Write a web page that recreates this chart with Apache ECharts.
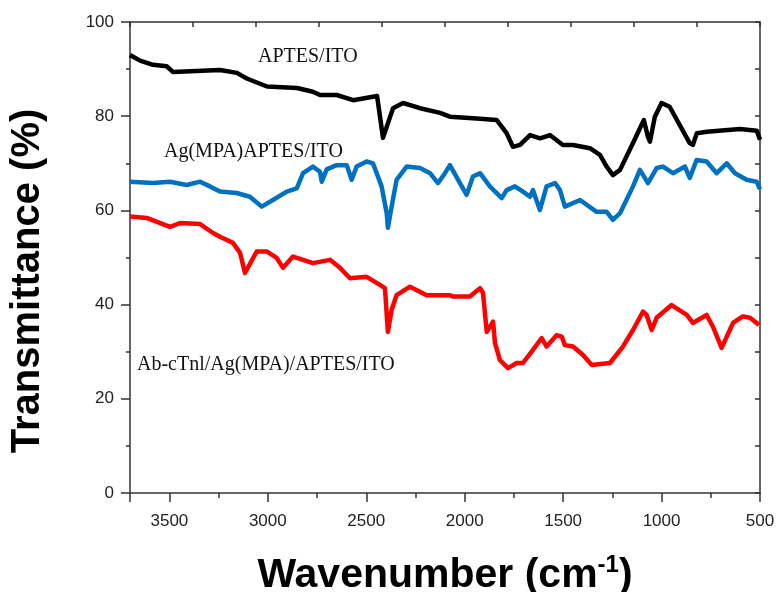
<!DOCTYPE html>
<html>
<head>
<meta charset="utf-8">
<title>FTIR</title>
<script src="https://cdn.jsdelivr.net/npm/echarts@6/dist/echarts.min.js"></script>
<style>
	html, body { margin: 0; padding: 0; background: #fff; }
	#chart { width: 776px; height: 592px; }
</style>
</head>
<body>
<div id="chart"></div>
<script>
	// APTES/ITO (black)
	var aptesWn = [3700, 3649, 3583, 3514, 3482, 3243, 3157, 3107, 3004, 2852, 2771, 2735, 2650, 2567, 2445, 2415, 2364, 2313, 2227, 2125, 2075, 1939, 1838, 1787, 1755, 1719, 1668, 1617, 1567, 1501, 1450, 1364, 1313, 1279, 1247, 1211, 1145, 1090, 1069, 1059, 1034, 1000, 959, 857, 841, 821, 770, 602, 516, 500];
	var aptesT = [93.0, 91.8, 90.9, 90.6, 89.4, 89.8, 89.2, 88.0, 86.3, 86.0, 85.2, 84.5, 84.5, 83.4, 84.3, 75.4, 81.7, 82.8, 81.7, 80.7, 79.9, 79.5, 79.2, 76.4, 73.5, 73.9, 76.0, 75.3, 76.0, 73.9, 73.9, 73.2, 71.8, 69.3, 67.5, 68.6, 74.3, 79.2, 75.6, 74.6, 79.9, 82.8, 82.0, 74.3, 73.9, 76.4, 76.7, 77.3, 76.9, 75.0];

	// Ag(MPA)APTES/ITO (blue)
	var agWn = [3700, 3583, 3497, 3412, 3344, 3294, 3243, 3158, 3091, 3031, 2974, 2904, 2853, 2821, 2771, 2735, 2726, 2701, 2650, 2599, 2574, 2549, 2498, 2466, 2422, 2396, 2390, 2371, 2346, 2295, 2227, 2176, 2136, 2100, 2075, 2024, 1990, 1958, 1922, 1872, 1812, 1787, 1745, 1704, 1668, 1653, 1618, 1584, 1541, 1516, 1491, 1414, 1330, 1279, 1247, 1211, 1145, 1110, 1069, 1025, 993, 942, 881, 857, 822, 771, 720, 669, 627, 568, 517, 500];
	var agT = [66.1, 65.8, 66.1, 65.4, 66.1, 65.1, 64.0, 63.7, 62.9, 60.8, 62.2, 64.0, 64.7, 67.9, 69.3, 68.2, 66.1, 68.7, 69.6, 69.6, 66.5, 69.3, 70.4, 70.0, 65.1, 59.4, 56.3, 60.8, 66.5, 69.3, 69.0, 67.9, 65.8, 67.9, 69.6, 65.8, 63.3, 67.2, 67.9, 65.1, 62.6, 64.3, 65.1, 64.0, 62.9, 64.3, 60.1, 65.1, 65.8, 64.3, 60.8, 62.2, 59.7, 59.7, 58.0, 59.4, 65.1, 68.6, 65.8, 69.0, 69.3, 67.9, 69.3, 66.9, 70.7, 70.4, 67.9, 70.0, 67.9, 66.5, 66.1, 64.5];

	// Ab-cTnl/Ag(MPA)/APTES/ITO (red)
	var abWn = [3700, 3615, 3497, 3446, 3344, 3278, 3243, 3177, 3141, 3116, 3056, 3006, 2955, 2923, 2872, 2821, 2771, 2684, 2633, 2583, 2498, 2447, 2405, 2390, 2371, 2346, 2278, 2193, 2075, 2059, 1973, 1922, 1907, 1888, 1856, 1846, 1821, 1780, 1736, 1704, 1653, 1609, 1584, 1533, 1507, 1491, 1450, 1399, 1355, 1262, 1196, 1145, 1094, 1076, 1050, 1025, 949, 872, 841, 771, 739, 695, 637, 587, 551, 505];
	var abT = [58.7, 58.4, 56.5, 57.3, 57.1, 55.2, 54.4, 53.1, 51.0, 46.7, 51.3, 51.3, 49.9, 47.8, 50.2, 49.5, 48.8, 49.5, 47.8, 45.6, 45.9, 44.6, 43.5, 34.2, 38.9, 42.0, 43.8, 42.0, 42.0, 41.7, 41.7, 43.5, 42.5, 34.2, 36.4, 31.8, 28.2, 26.5, 27.6, 27.6, 30.4, 32.9, 31.1, 33.5, 33.2, 31.4, 31.1, 29.3, 27.2, 27.6, 31.1, 34.6, 38.5, 37.8, 34.6, 37.2, 39.9, 37.8, 36.1, 37.8, 35.3, 30.8, 36.1, 37.5, 37.2, 35.7];

	var xTicks = { min: 500, max: 3700, step: 500 };
	var yTicks = { min: 0, max: 100, step: 20 };

	function pairs(xs, ys) {
		return xs.map(function (x, i) { return [x, ys[i]]; });
	}

	var axisColor = '#333';
	var tickStyle = { color: axisColor, width: 1.5 };
	var chart = echarts.init(document.getElementById('chart'), null, { renderer: 'canvas' });

	var option = {
		backgroundColor: '#fff',
		animation: false,
		grid: { left: 130, right: 16, top: 22, bottom: 99, containLabel: false, outerBoundsMode: 'none' },
		xAxis: [
			{
				type: 'value',
				position: 'bottom',
				inverse: true,
				min: xTicks.min,
				max: xTicks.max,
				interval: xTicks.step,
				axisLine: { show: true, onZero: false, lineStyle: tickStyle },
				axisTick: { show: true, inside: false, length: 9, lineStyle: tickStyle },
				minorTick: { show: true, splitNumber: 2, length: 5, lineStyle: tickStyle },
				axisLabel: {
					margin: 20, color: '#222', fontSize: 17, fontFamily: 'Liberation Sans, Arial',
					showMaxLabel: false,
					formatter: function (v) { return String(v); }
				},
				splitLine: { show: false },
				name: 'Wavenumber (cm{sup|-1})',
				nameLocation: 'middle',
				nameGap: 60,
				nameTextStyle: {
					color: '#000', fontSize: 41, fontWeight: 'bold', fontFamily: 'Liberation Sans, Arial',
					rich: { sup: { fontSize: 24, fontWeight: 'bold', verticalAlign: 'top', padding: [0, 0, 22, 0], fontFamily: 'Liberation Sans, Arial' } }
				}
			},
			{
				// top frame, its own tick spacing
				type: 'value',
				position: 'top',
				inverse: true,
				min: 500,
				max: 3700,
				interval: 320,
				axisLine: { show: true, onZero: false, lineStyle: tickStyle },
				axisTick: { show: true, inside: true, length: 5, lineStyle: tickStyle },
				axisLabel: { show: false },
				splitLine: { show: false }
			}
		],
		yAxis: [
			{
				type: 'value',
				position: 'left',
				min: yTicks.min,
				max: yTicks.max,
				interval: yTicks.step,
				axisLine: { show: true, onZero: false, lineStyle: tickStyle },
				axisTick: { show: true, inside: false, length: 9, lineStyle: tickStyle },
				minorTick: { show: true, splitNumber: 2, length: 4, lineStyle: tickStyle },
				axisLabel: { margin: 16, color: '#222', fontSize: 17, fontFamily: 'Liberation Sans, Arial' },
				splitLine: { show: false }
			},
			{
				type: 'value',
				position: 'right',
				min: 0,
				max: 100,
				interval: 10,
				axisLine: { show: true, onZero: false, lineStyle: tickStyle },
				axisTick: { show: true, inside: true, length: 5, lineStyle: tickStyle },
				axisLabel: { show: false },
				splitLine: { show: false }
			}
		],
		graphic: [
			{
				type: 'text', x: 28, y: 281, rotation: Math.PI / 2,
				style: { text: 'Transmittance (%)', fill: '#000', font: 'bold 40px "Liberation Sans", Arial', textAlign: 'center', textVerticalAlign: 'middle' }
			},
			{
				type: 'text', x: 258, y: 57,
				style: { text: 'APTES/ITO', fill: '#111', font: '20px "Liberation Serif", serif', textAlign: 'left', textVerticalAlign: 'middle' }
			},
			{
				type: 'text', x: 164, y: 152,
				style: { text: 'Ag(MPA)APTES/ITO', fill: '#111', font: '20px "Liberation Serif", serif', textAlign: 'left', textVerticalAlign: 'middle' }
			},
			{
				type: 'text', x: 137, y: 365,
				style: { text: 'Ab-cTnl/Ag(MPA)/APTES/ITO', fill: '#111', font: '20px "Liberation Serif", serif', textAlign: 'left', textVerticalAlign: 'middle' }
			}
		],
		series: [
			{
				name: 'Ab-cTnl/Ag(MPA)/APTES/ITO',
				type: 'line',
				data: pairs(abWn, abT),
				symbol: 'none',
				smooth: false,
				lineStyle: { color: '#ff0000', width: 4.5, join: 'round' }
			},
			{
				name: 'Ag(MPA)APTES/ITO',
				type: 'line',
				data: pairs(agWn, agT),
				symbol: 'none',
				smooth: false,
				lineStyle: { color: '#0070c0', width: 4.5, join: 'round' }
			},
			{
				name: 'APTES/ITO',
				type: 'line',
				data: pairs(aptesWn, aptesT),
				symbol: 'none',
				smooth: false,
				lineStyle: { color: '#000', width: 4.5, join: 'round' }
			}
		]
	};

	chart.setOption(option);
</script>
</body>
</html>
